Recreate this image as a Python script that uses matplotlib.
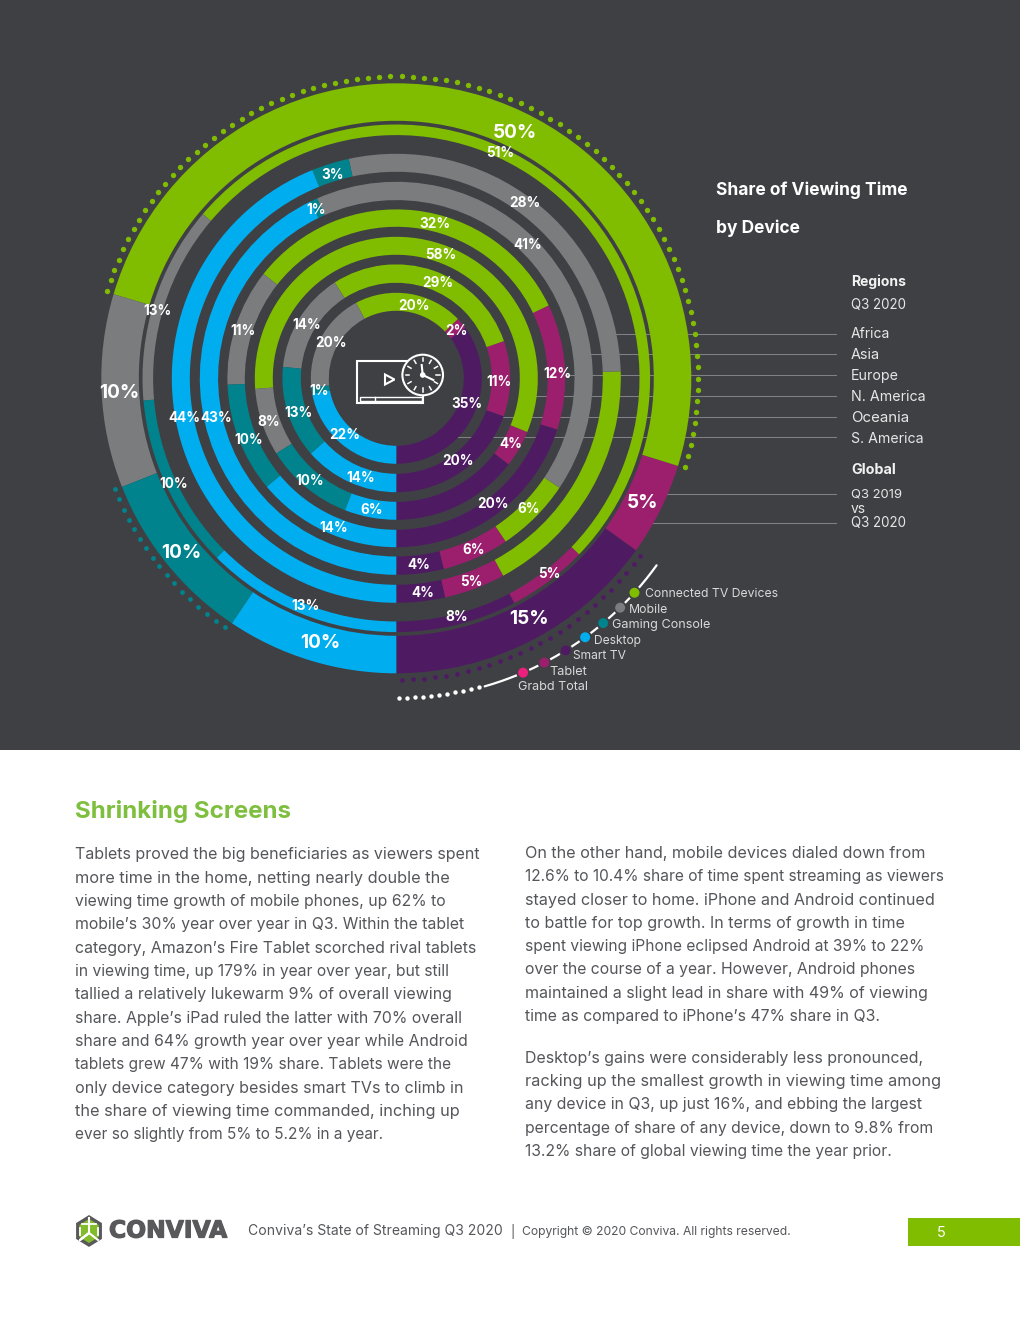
import numpy as np
import matplotlib
matplotlib.use("Agg")
import matplotlib.pyplot as plt
import matplotlib.patheffects as pe
from matplotlib.patches import Rectangle, Circle, Polygon

# ---------- data (share of viewing time, arcs) ----------
devices = ["Smart TV", "Tablet", "Connected TV Devices", "Mobile", "Gaming Console", "Desktop"]
global_2020 = [15.1, 5.1, 50.2, 10.6, 9.6, 9.4]
global_2019 = [7.7, 5.1, 51.0, 12.6, 11.1, 12.5]
s_america = [3.5, 4.4, 17.6, 27.9, 2.7, 43.9]
oceania = [3.9, 5.5, 6.2, 41.0, 0.6, 42.8]
n_america = [20.1, 12.0, 32.3, 11.2, 10.5, 13.9]
europe = [14.6, 4.2, 57.4, 7.7, 10.2, 5.9]
asia = [19.6, 10.7, 28.8, 14.3, 13.1, 13.5]
africa = [35.1, 2.1, 20.6, 18.9, 1.2, 22.1]
rings = [global_2020, global_2019, s_america, oceania, n_america, europe, asia, africa]

region_labels = ["Africa", "Asia", "Europe", "N. America", "Oceania", "S. America"]
global_labels = ["Q3 2019", "vs", "Q3 2020"]
legend_labels = ["Connected TV Devices", "Mobile", "Gaming Console", "Desktop", "Smart TV", "Tablet", "Grabd Total"]

# printed percentages
big_labels = ["50%", "10%", "10%", "10%", "5%", "15%"]
small_labels = ["51%", "3%", "28%", "1%", "41%", "32%", "58%", "29%", "20%", "2%", "13%", "11%", "14%", "20%",
                "1%", "44%", "43%", "8%", "13%", "10%", "22%", "10%", "14%", "10%", "6%", "14%", "13%",
                "11%", "12%", "35%", "4%", "20%", "20%", "6%", "6%", "4%", "5%", "5%", "4%", "8%"]

left_column = [
    "Tablets proved the big beneficiaries as viewers spent",
    "more time in the home, netting nearly double the",
    "viewing time growth of mobile phones, up 62% to",
    "mobile\u2019s 30% year over year in Q3. Within the tablet",
    "category, Amazon\u2019s Fire Tablet scorched rival tablets",
    "in viewing time, up 179% in year over year, but still",
    "tallied a relatively lukewarm 9% of overall viewing",
    "share. Apple\u2019s iPad ruled the latter with 70% overall",
    "share and 64% growth year over year while Android",
    "tablets grew 47% with 19% share. Tablets were the",
    "only device category besides smart TVs to climb in",
    "the share of viewing time commanded, inching up",
    "ever so slightly from 5% to 5.2% in a year.",
]
right_column_a = [
    "On the other hand, mobile devices dialed down from",
    "12.6% to 10.4% share of time spent streaming as viewers",
    "stayed closer to home. iPhone and Android continued",
    "to battle for top growth. In terms of growth in time",
    "spent viewing iPhone eclipsed Android at 39% to 22%",
    "over the course of a year. However, Android phones",
    "maintained a slight lead in share with 49% of viewing",
    "time as compared to iPhone\u2019s 47% share in Q3.",
]
right_column_b = [
    "Desktop\u2019s gains were considerably less pronounced,",
    "racking up the smallest growth in viewing time among",
    "any device in Q3, up just 16%, and ebbing the largest",
    "percentage of share of any device, down to 9.8% from",
    "13.2% share of global viewing time the year prior.",
]

# ---------- style and layout ----------
BG = "#3f4044"
GREEN = "#80bc00"
colors = ["#4e1b63", "#9c1f6e", GREEN, "#7b7c7e", "#00838d", "#00aeef"]
W, H = 1020, 1320
CX, CY, RMAX = 396.3, 378.3, 330.0
ring_r = [(257.5, 295.0), (243.2, 253.8), (206.5, 224.5), (178.2, 196.5),
          (151.5, 168.9), (123.5, 141.5), (95.5, 113.9), (67.5, 85.5)]
FONT = "Inter"
plt.rcParams["font.family"] = [FONT, "DejaVu Sans"]

fig = plt.figure(figsize=((W + 0.01) / 100, (H + 0.01) / 100), dpi=100, facecolor="white")
rend = fig.canvas.get_renderer()


def px_axes(z):
    a = fig.add_axes([0, 0, 1, 1], zorder=z)
    a.set_xlim(0, W)
    a.set_ylim(H, 0)
    a.axis("off")
    a.patch.set_alpha(0)
    return a


back = px_axes(0)
back.add_patch(Rectangle((0, 0), W, 750, fc=BG, ec="none"))

# leader lines
for y, r in zip([334, 354, 375, 396, 417, 437], [224, 196, 168.4, 141, 113.4, 85]):
    x0 = CX + np.sqrt(r ** 2 - (y - CY) ** 2)
    back.plot([x0, 836], [y, y], color="#808184", lw=0.75)
for y in [494, 523]:
    x0 = CX + np.sqrt(294.5 ** 2 - (y - CY) ** 2)
    back.plot([x0, 836], [y, y], color="#808184", lw=0.75)

# polar rings
pol = fig.add_axes([(CX - RMAX) / W, 1 - (CY + RMAX) / H, 2 * RMAX / W, 2 * RMAX / H],
                   projection="polar", zorder=1)
pol.patch.set_alpha(0)
pol.set_theta_zero_location("S")
pol.set_theta_direction(1)
pol.set_ylim(0, RMAX)
pol.axis("off")
for vals, (r0, r1) in zip(rings, ring_r):
    total = sum(vals)
    start = 0.0
    for v, c in zip(vals, colors):
        w = v / total * 2 * np.pi
        pol.bar(start, r1 - r0, width=w, bottom=r0, align="edge", color=c, edgecolor="none", linewidth=0)
        start += w


def dots(a0, a1, step, r, c, s):
    th = np.radians(np.arange(a0, a1 + 1e-6, step))
    pol.scatter(th, np.full_like(th, r), s=s, color=c, linewidths=0, zorder=3)


dots(73.0, 253.5, 2.12, 302, GREEN, 15)
dots(291.5, 326.5, 2.12, 302.5, "#00838d", 12)
dots(1.0, 54.5, 2.12, 301.5, "#4e1b63", 12)

# white legend curve
dots(0.5, 15.0, 1.45, 319.5, "white", 10)
th = np.radians(np.linspace(16, 54.3, 200))
pol.plot(th, np.full_like(th, 320.5), color="white", lw=1.6, zorder=3, solid_capstyle="round")
leg_angles = [48.0, 44.3, 40.2, 36.1, 31.9, 27.5, 23.3]
leg_colors = [GREEN, "#7b7c7e", "#00838d", "#00aeef", "#4e1b63", "#9c1f6e", "#e9207c"]
pol.scatter(np.radians(leg_angles), [320.5] * 7, s=72, color=leg_colors, edgecolors=BG, linewidths=1.3, zorder=4)

front = px_axes(2)


def T(x, y, s, size, color="white", weight="normal", ha="left", end=None, dy=1.5, **kw):
    t = front.text(x, y + dy, s, fontsize=size * 0.72, color=color, fontweight=weight, ha=ha, va="center", **kw)
    if end is not None:
        wid = t.get_window_extent(rend).width
        t.set_fontsize(t.get_fontsize() * (end - x) / wid)
    return t


# percentage labels
big_pos = [(515, 132), (119, 392), (181, 552), (320, 642), (642, 502), (529, 618)]
small_pos = [(500, 152), (333, 174), (525, 202), (316, 209), (528, 244), (435, 223), (441, 254), (438, 282), (414, 305),
             (456, 330), (157, 310), (243, 330), (307, 324), (331, 342), (319, 390), (184, 417), (216, 417), (269, 421),
             (298, 412), (249, 439), (345, 434), (174, 483), (361, 477), (310, 480), (372, 509), (334, 527), (305, 605),
             (499, 381), (557, 373), (467, 403), (511, 443), (458, 460), (493, 503), (529, 508), (474, 549), (419, 564),
             (549, 573), (471, 581), (423, 592), (457, 616)]
for s, (x, y) in zip(big_labels, big_pos):
    T(x, y, s, 19, weight="bold", ha="center", dy=1)
for s, (x, y) in zip(small_labels, small_pos):
    T(x, y, s, 13.5, weight="bold", ha="center", dy=1)

# centre icon
lw = 1.5
front.add_patch(Rectangle((357, 361), 66, 42, fc="none", ec="white", lw=lw))
front.add_patch(Rectangle((360, 396.7), 62, 4.6, fc="none", ec="white", lw=1.0))
front.plot([375, 375], [396.7, 401.3], color="white", lw=1.0)
front.add_patch(Polygon([(385, 374.5), (385, 384.5), (394.5, 379.5)], closed=True, fc="none", ec="white", lw=lw))
front.add_patch(Circle((422.7, 375), 20.3, fc=BG, ec="white", lw=lw, zorder=3))
for a in np.arange(0, 360, 30):
    c, s = np.cos(np.radians(a)), np.sin(np.radians(a))
    front.plot([422.7 + 13.5 * c, 422.7 + 17 * c], [375 + 13.5 * s, 375 + 17 * s], color="white", lw=1.1, zorder=4)
front.add_patch(Circle((422.7, 375), 2.8, fc="white", ec="none", zorder=4))
front.plot([421.7, 422.7, 433.3], [365, 375, 380], color="white", lw=1.5, zorder=4)

# right side labels
T(716, 189, "Share of Viewing Time", 17, weight="bold", end=907, dy=1)
T(716, 227, "by Device", 17, weight="bold", end=800, dy=1)
T(851, 281, "Regions", 13.5, weight="bold", color="#f2f2f2", end=906, dy=0.5)
T(851, 304, "Q3 2020", 13.5, color="#e6e6e6", end=906, dy=0.5)
for s, y, e in zip(region_labels, [333, 354, 375, 396, 417, 438], [890, 880, 898, 925, 909, 923]):
    T(851, y, s, 13.5, color="#e6e6e6", end=e, dy=0.5)
T(851, 469, "Global", 13.5, weight="bold", color="#f2f2f2", end=896, dy=0.5)
for s, y, e in zip(global_labels, [494, 508, 522], [902, 866, 906]):
    T(851, y, s, 13.5, color="#e6e6e6", end=e, dy=0.5)

# legend labels
for s, (x, y), e in zip(legend_labels,
                        [(645, 593), (629, 609), (612, 624), (594, 640), (573, 655), (549, 671), (518, 686)],
                        [778, 668, 711, 641, 626, 587, 588]):
    T(x, y, s, 11.7, color="#d9d9d9", end=e, dy=0.7)

# body text
T(75, 810, "Shrinking Screens", 24.5, color="#7fbf3f", weight="bold", end=291)
BODY = "#55565a"
for s, y, e in zip(left_column, [854, 878, 901, 924, 948, 971, 994, 1018, 1041, 1064, 1088, 1111, 1134],
                   [480, 449, 447, 464, 477, 450, 451, 461, 467, 450, 462, 459, 384]):
    T(75, y, s, 16, color=BODY, end=e, dy=0.7)
for s, y, e in zip(right_column_a, [853, 876, 900, 923, 946, 969, 993, 1016],
                   [925, 944, 934, 904, 925, 916, 928, 880]):
    T(525, y, s, 16, color=BODY, end=e, dy=0.7)
for s, y, e in zip(right_column_b, [1058, 1081, 1104, 1128, 1151], [923, 940, 922, 934, 892]):
    T(525, y, s, 16, color=BODY, end=e, dy=0.7)

# footer
hx, hy = 89, 1231
hexa = [(hx + 13 * np.sin(a), hy - 14 * np.cos(a)) for a in np.radians(np.arange(0, 360, 60))]
front.add_patch(Polygon(hexa, closed=True, fc="#82bc2a", ec="#59595c", lw=2.4))
front.plot([hx, hx, hx - 9, hx, hx + 9], [hy - 13, hy + 2, hy + 9, hy + 2, hy + 9], color="white", lw=1.5)
front.plot([hx - 7, hx + 7], [hy - 7, hy - 7], color="white", lw=1.3)
front.plot([hx - 9, hx - 9], [hy - 3, hy + 4], color="white", lw=1.3)
front.plot([hx + 9, hx + 9], [hy - 3, hy + 4], color="white", lw=1.3)
T(109, 1229.5, "CONVIVA", 26, color="#59595c", weight="bold", family="DejaVu Sans", end=227,
  path_effects=[pe.withStroke(linewidth=0.9, foreground="#59595c")])
T(248, 1231, "Conviva\u2019s State of Streaming Q3 2020", 14, color=BODY, end=503, dy=0.3)
T(510, 1231, "|", 13, color=BODY, dy=0)
T(522, 1232, "Copyright \u00a9 2020 Conviva. All rights reserved.", 12, color=BODY, end=791, dy=0)
front.add_patch(Rectangle((908, 1218), 112, 28, fc=GREEN, ec="none"))
T(941, 1232, "5", 14.5, ha="center", dy=0.5)

fig.savefig("out.png", dpi=100, facecolor="white")
